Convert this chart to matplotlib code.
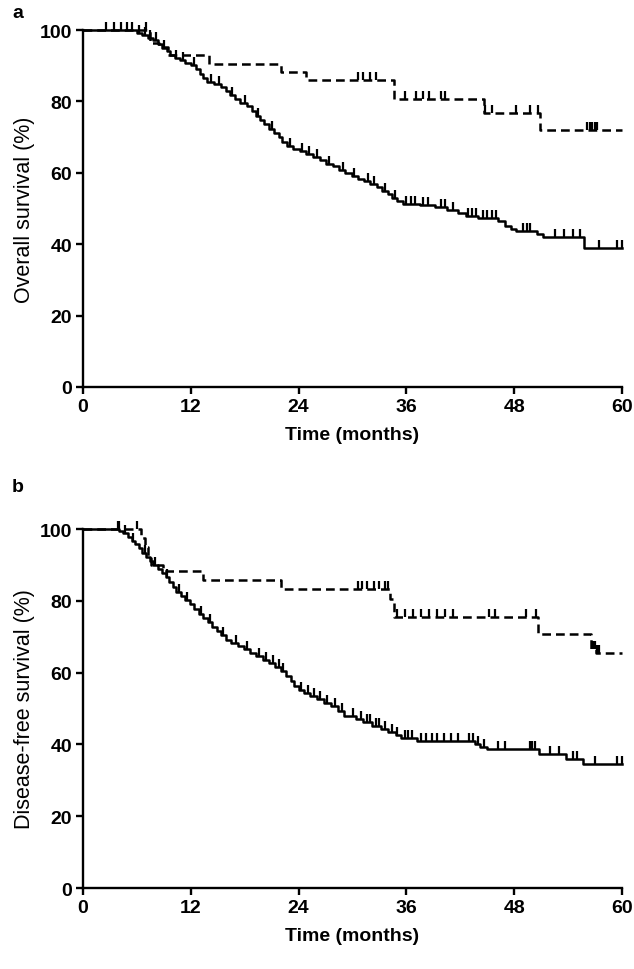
import numpy as np
import matplotlib
matplotlib.use('Agg')
import matplotlib.pyplot as plt
from matplotlib.markers import TICKUP

plt.rcParams['font.family'] = ['Liberation Sans', 'DejaVu Sans']

# ---- panel a : overall survival ----
os_solid_t = [6.0, 6.6, 7.2, 7.8, 8.3, 8.8, 9.3, 9.7, 10.2, 10.8, 11.4, 12.0, 12.6, 13.0, 13.4, 13.8,
              14.6, 15.4, 15.9, 16.4, 16.9, 17.5, 18.2, 18.8, 19.2, 19.7, 20.2, 20.7, 21.3, 21.8, 22.2,
              22.7, 23.4, 24.1, 24.8, 25.6, 26.4, 27.1, 27.8, 28.5, 29.2, 29.9, 30.6, 31.3, 32.0, 32.7,
              33.3, 33.9, 34.4, 35.0, 35.6, 37.5, 39.2, 40.5, 41.8, 42.6, 44.0, 46.2, 47.0, 47.6, 48.2,
              50.5, 51.2, 55.8]
os_solid_s = [99.3, 98.6, 97.9, 97.2, 96.0, 95.0, 94.0, 93.0, 92.3, 91.6, 90.9, 90.2, 89.0, 87.8, 86.6, 85.4,
              84.8, 84.0, 83.0, 81.8, 80.6, 79.6, 78.6, 77.2, 76.0, 74.8, 73.6, 72.4, 71.2, 70.0, 68.6,
              67.6, 66.8, 66.0, 65.2, 64.4, 63.6, 62.6, 61.8, 60.9, 60.0, 59.2, 58.4, 57.6, 56.8, 56.0,
              55.0, 54.0, 53.0, 52.0, 51.4, 51.0, 50.4, 49.6, 48.8, 48.0, 47.4, 46.6, 45.2, 44.2, 43.6,
              42.8, 42.0, 39.0]
os_solid_cens = [2.5, 3.4, 4.2, 4.9, 5.5, 6.2, 6.9, 7.5, 8.1, 9.0, 10.4, 11.1, 12.3, 14.2, 15.1, 16.6,
                 18.0, 19.5, 21.0, 23.0, 24.4, 25.2, 26.0, 27.4, 28.9, 30.2, 31.7, 32.4, 33.6, 34.7,
                 36.0, 36.5, 37.0, 37.8, 38.4, 39.8, 40.3, 41.2, 42.9, 43.3, 43.8, 44.5, 45.0, 45.5,
                 46.0, 49.0, 49.4, 49.8, 52.5, 53.5, 54.5, 55.3, 57.5, 59.5, 60.0]

os_dash_t = [7.5, 8.5, 9.5, 14.0, 22.0, 24.8, 34.6, 44.6, 50.9]
os_dash_s = [96.5, 95.3, 93.0, 90.6, 88.3, 86.0, 80.8, 76.7, 72.0]
os_dash_cens = [7.0, 30.6, 31.2, 31.9, 32.6, 35.8, 37.1, 37.8, 38.5, 39.8, 40.3,
                44.8, 45.5, 48.2, 49.8, 50.7, 56.1, 56.4, 56.7, 57.0, 57.2]

# ---- panel b : disease-free survival ----
dfs_solid_t = [4.0, 4.5, 5.0, 5.4, 5.8, 6.2, 6.6, 7.0, 7.4, 7.8, 8.3, 8.8, 9.2, 9.6, 10.0, 10.4, 10.9,
               11.4, 11.9, 12.4, 12.9, 13.4, 13.9, 14.4, 14.9, 15.4, 15.9, 16.5, 17.2, 17.9, 18.6, 19.3,
               20.0, 20.7, 21.4, 22.0, 22.6, 23.1, 23.5, 24.0, 24.6, 25.3, 26.0, 26.8, 27.6, 28.4, 29.0,
               30.4, 31.2, 32.2, 33.2, 34.0, 34.8, 35.4, 37.2, 43.6, 44.2, 45.0, 50.8, 53.8, 55.7]
dfs_solid_s = [99.5, 98.8, 97.8, 96.8, 95.8, 94.6, 93.4, 92.2, 91.0, 90.0, 89.0, 87.8, 86.6, 85.2, 84.0,
               82.6, 81.4, 80.2, 79.0, 77.6, 76.4, 75.2, 74.0, 72.8, 71.6, 70.4, 69.2, 68.2, 67.4, 66.6,
               65.6, 64.6, 63.6, 62.6, 61.6, 60.4, 59.2, 57.8, 56.4, 55.2, 54.2, 53.4, 52.6, 51.6, 50.6,
               49.4, 48.0, 47.0, 46.2, 45.2, 44.4, 43.4, 42.6, 41.8, 41.0, 40.2, 39.4, 38.6, 37.4, 35.9,
               34.6]
dfs_solid_cens = [3.9, 4.7, 5.6, 6.9, 8.0, 9.4, 10.7, 11.6, 13.1, 14.1, 15.6, 17.0, 18.2, 19.6, 20.4,
                  21.1, 21.8, 22.3, 24.3, 25.0, 25.7, 26.4, 27.2, 28.0, 28.8, 30.0, 31.0, 31.6, 32.0,
                  32.6, 33.0, 33.6, 34.4, 35.0, 35.8, 36.2, 36.6, 37.6, 38.2, 38.8, 39.4, 40.2, 41.0,
                  41.8, 43.0, 43.4, 44.0, 44.6, 46.2, 47.0, 49.8, 50.0, 50.3, 52.0, 53.0, 54.6, 55.0,
                  57.0, 59.4, 60.0]

dfs_dash_t = [6.5, 6.9, 7.2, 7.6, 8.9, 13.3, 22.0, 34.2, 34.6, 50.7, 56.6, 57.1]
dfs_dash_s = [97.5, 95.0, 92.0, 90.0, 88.2, 85.7, 83.2, 80.5, 75.6, 70.8, 66.5, 65.5]
dfs_dash_cens = [4.0, 6.0, 30.6, 31.1, 31.6, 32.4, 33.0, 33.6, 34.0, 34.9, 35.8, 36.7, 37.6,
                 38.5, 39.4, 40.3, 41.2, 45.2, 45.9, 49.3, 50.4, 56.8, 57.0, 57.2, 57.4]

x_ticks = [0, 12, 24, 36, 48, 60]
y_ticks = [0, 20, 40, 60, 80, 100]


def km_curve(ax, t, s, cens, ls):
    # step function from time 0 (100%) to 60 months
    tt = np.concatenate([[0], t, [60]])
    ss = np.concatenate([[100], s, [s[-1]]])
    if ls == '--':
        ax.step(tt, ss, where='post', color='black', lw=1.8, ls='--', dashes=(3.5, 2),
                clip_on=False)
    else:
        ax.step(tt, ss, where='post', color='black', lw=1.8, clip_on=False)
    # censor ticks point up from the curve
    idx = np.searchsorted(tt, cens, side='right') - 1
    ax.plot(cens, ss[idx], ls='none', marker=TICKUP, ms=6, mew=1.6, color='black', clip_on=False)


def make_panel(ax, curves, ylab):
    for c in curves:
        km_curve(ax, *c)
    ax.set_xlim(0, 60)
    ax.set_ylim(0, 100)
    ax.set_xticks(x_ticks)
    ax.set_yticks(y_ticks)
    for sp in ['top', 'right']:
        ax.spines[sp].set_visible(False)
    for sp in ['left', 'bottom']:
        ax.spines[sp].set_linewidth(1.7)
    ax.tick_params(direction='out', length=5, width=1.7, labelsize=14, pad=3)
    for lab in ax.get_xticklabels() + ax.get_yticklabels():
        lab.set_fontweight('bold')
    ax.set_xlabel('Time (months)', fontsize=14, fontweight='bold', labelpad=8)
    ax.set_ylabel(ylab, fontsize=15.5, labelpad=3)


fig = plt.figure(figsize=(6.34, 9.70), dpi=100)
ax1 = fig.add_axes([0.131, 0.600, 0.850, 0.368])
ax2 = fig.add_axes([0.131, 0.0835, 0.850, 0.370])

make_panel(ax1, [(os_solid_t, os_solid_s, os_solid_cens, '-'),
                 (os_dash_t, os_dash_s, os_dash_cens, '--')], 'Overall survival (%)')
make_panel(ax2, [(dfs_solid_t, dfs_solid_s, dfs_solid_cens, '-'),
                 (dfs_dash_t, dfs_dash_s, dfs_dash_cens, '--')], 'Disease-free survival (%)')

fig.text(12 / 634, 1 - 14 / 970, 'a', fontsize=14, fontweight='bold', ha='left', va='center')
fig.text(12 / 634, 1 - 488 / 970, 'b', fontsize=14, fontweight='bold', ha='left', va='center')

fig.savefig('out.png', dpi=100)
